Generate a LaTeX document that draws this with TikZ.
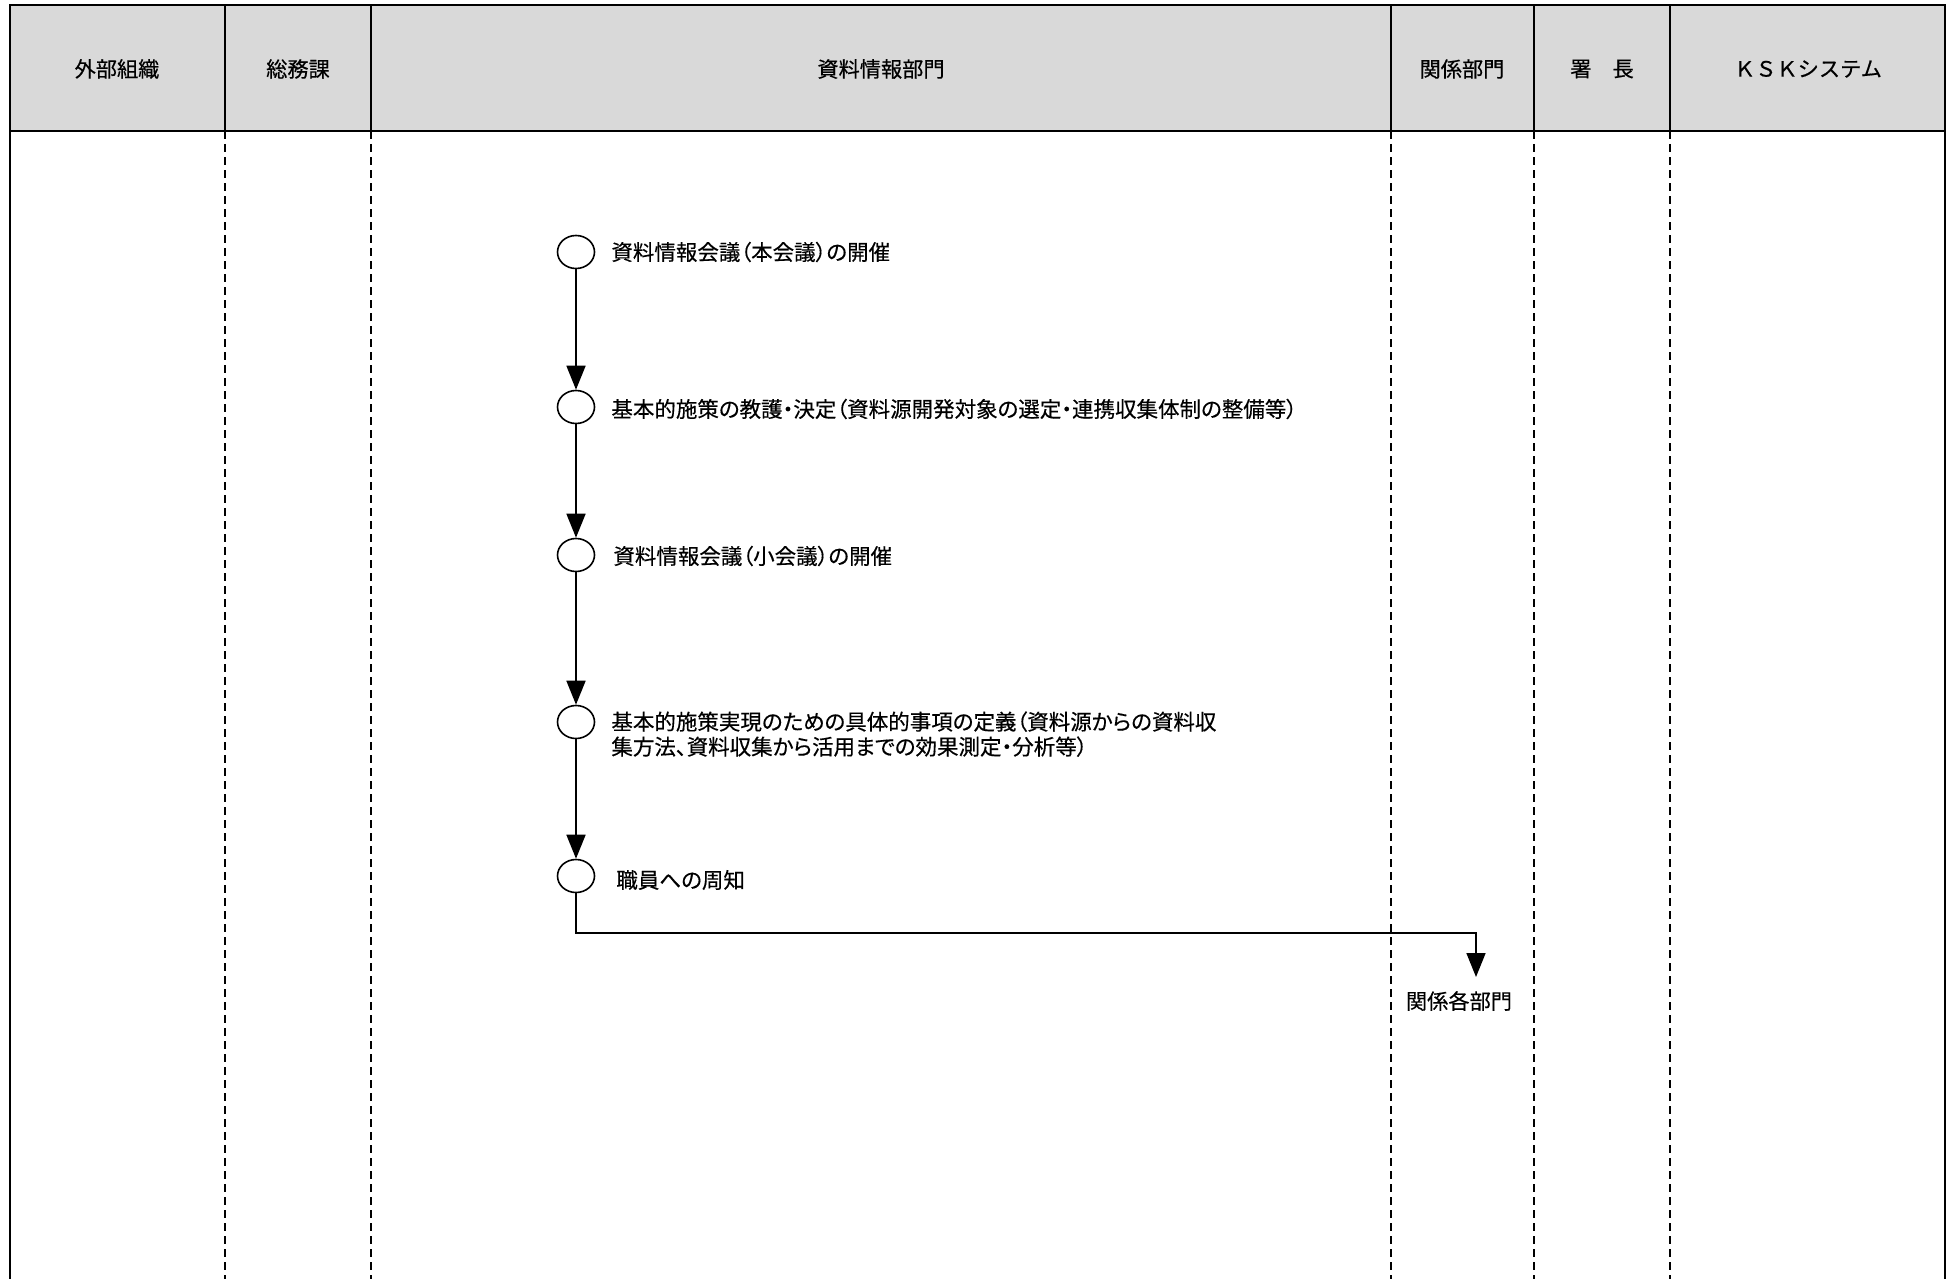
\documentclass[tikz,border=0pt]{standalone}
\usepackage{fontspec}
\setmainfont{Noto Sans CJK JP}[FakeBold=0.4]
\newfontfamily\jpprop[RawFeature=+palt, FakeBold=0.4]{Noto Sans CJK JP}
\usepackage{tikz}
\usetikzlibrary{arrows.meta,shapes.geometric,positioning}
\definecolor{hdrgray}{HTML}{D9D9D9}

\begin{document}
\begin{tikzpicture}[x=0.5pt, y=-0.5pt,
    hdr/.style={line width=1pt},
    border/.style={line width=0.8pt},
    lane/.style={line width=0.6pt, dash pattern=on 4pt off 2.5pt},
    hlabel/.style={font=\fontsize{10.6pt}{12.5pt}\selectfont},
    stepnode/.style={ellipse, draw, line width=0.8pt, minimum width=18.5pt, minimum height=16.5pt, inner sep=0pt},
    note/.style={anchor=west, inner sep=0pt, align=left, font=\jpprop\fontsize{10.75pt}{12.5pt}\selectfont},
    flow/.style={line width=0.85pt, -{Triangle[width=9.5pt,length=12pt]}}]
    \useasboundingbox (0,0) rectangle (1959,1279);

    % 見出し欄
    \fill[hdrgray] (10,5) rectangle (1945,131);
    \draw[hdr] (10,5) rectangle (1945,131);

    % 外枠（左右）
    \draw[border] (10,131) -- (10,1279);
    \draw[border] (1945,131) -- (1945,1279);

    % 部署の区切り線
    \foreach \x in {225,371,1391,1534,1670} {
        \draw[hdr] (\x,5) -- (\x,131);
        \draw[lane] (\x,131) -- (\x,1279);
    }

    % 部署名
    \node[hlabel] (h1) at (117,69) {外部組織};
    \node[hlabel] (h2) at (298,69) {総務課};
    \node[hlabel] (h3) at (881,69) {資料情報部門};
    \node[hlabel] (h4) at (1462,69) {関係部門};
    \node[hlabel] (h5) at (1602,69) {署　長};
    \node[hlabel] (h6) at (1808,69) {ＫＳＫシステム};

    % 手順（丸印）
    \node[stepnode] (s1) at (576,252) {};
    \node[stepnode] (s2) at (576,407) {};
    \node[stepnode] (s3) at (576,555) {};
    \node[stepnode] (s4) at (576,722) {};
    \node[stepnode] (s5) at (576,876) {};

    % 手順の説明
    \node[note] (t1) at (611,252) {資料情報会議（本会議）の開催};
    \node[note] (t2) at (611,409) {基本的施策の教護・決定（資料源開発対象の選定・連携収集体制の整備等）};
    \node[note] (t3) at (613,556) {資料情報会議（小会議）の開催};
    \node[note, anchor=north west] (t4) at (611,711) {基本的施策実現のための具体的事項の定義（資料源からの資料収\\集方法、資料収集から活用までの効果測定・分析等）};
    \node[note] (t5) at (616,880) {職員への周知};

    % 流れ
    \draw[flow] (s1) -- (s2);
    \draw[flow] (s2) -- (s3);
    \draw[flow] (s3) -- (s4);
    \draw[flow] (s4) -- (s5);

    % 関係各部門へ
    \node[hlabel] (bumon) at (1459,1001) {関係各部門};
    \coordinate (turn) at (1476,933);
    \coordinate (tip) at (1476,977);
    \draw[flow] (s5) |- (turn) -- (tip);
\end{tikzpicture}
\end{document}
